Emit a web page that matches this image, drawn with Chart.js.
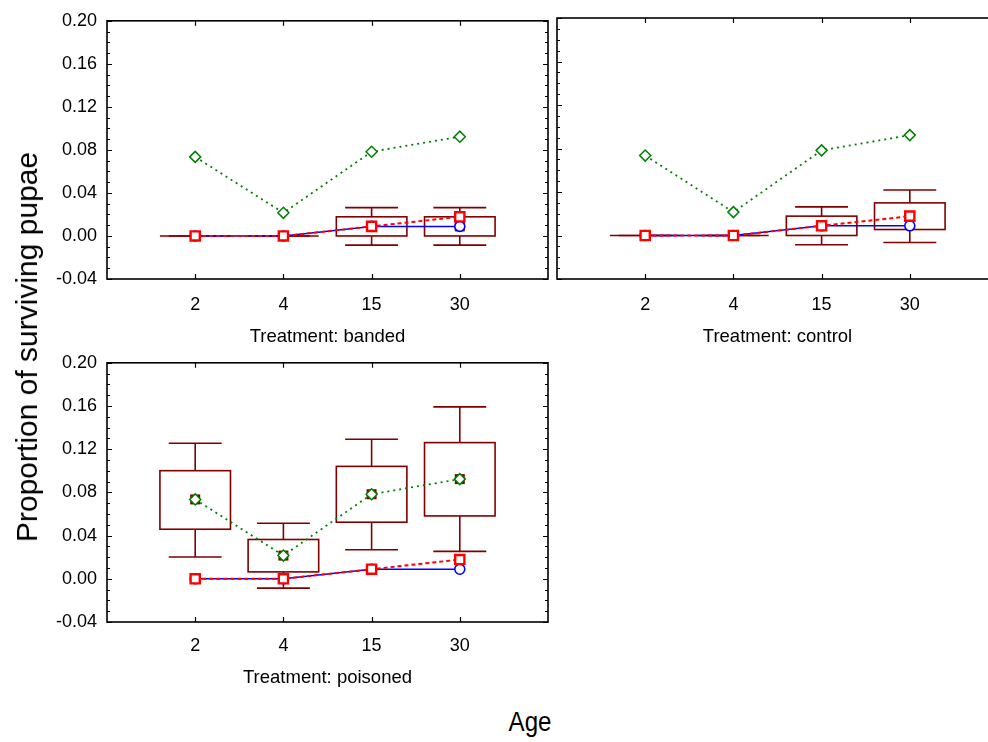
<!DOCTYPE html>
<html><head><meta charset="utf-8">
<script src="https://cdn.jsdelivr.net/npm/chart.js@4.4.1/dist/chart.umd.min.js"></script>
<style>
html,body{margin:0;padding:0;width:988px;height:742px;overflow:hidden;background:#fff;}
#wrap{position:relative;width:988px;height:742px;overflow:hidden;background:#fff;}
#wrap canvas{position:absolute;}
.lbl{position:absolute;font-family:"Liberation Sans",Arial,sans-serif;color:#000;white-space:nowrap;line-height:1;}
#ylab{left:27px;top:347px;font-size:30px;transform:translate(-50%,-50%) rotate(-90deg);}
#xlab{left:530px;top:722px;font-size:28px;transform:translate(-50%,-50%) scaleX(0.86);}
</style></head><body>
<div id="wrap">
<canvas id="c1" width="560" height="350" style="left:0px;top:0px"></canvas>
<canvas id="c2" width="470" height="350" style="left:540px;top:0px"></canvas>
<canvas id="c3" width="560" height="351" style="left:0px;top:342px"></canvas>
<div class="lbl" id="ylab">Proportion of surviving pupae</div>
<div class="lbl" id="xlab">Age</div>
</div>
<script>
// ---- data ----
const categories = ['2', '4', '15', '30'];
const yTickValues = [-0.04, 0, 0.04, 0.08, 0.12, 0.16, 0.20];
const yTickLabels = ['-0.04', '0.00', '0.04', '0.08', '0.12', '0.16', '0.20'];
const yMinorStep = 0.01;

const bandedMean = [0, 0, 0.0089, 0.0089];
const controlMean = [0, 0, 0.0089, 0.0178];
const poisonedMean = [0.0735, 0.0215, 0.0783, 0.0923];

const bandedBoxLow = [0, 0, 0, 0];
const bandedBoxHigh = [0, 0, 0.0178, 0.0178];
const bandedWhiskLow = [0, 0, -0.0085, -0.0085];
const bandedWhiskHigh = [0, 0, 0.0263, 0.0263];

const controlBoxLow = [0, 0, 0, 0.0055];
const controlBoxHigh = [0, 0, 0.0178, 0.0300];
const controlWhiskLow = [0, 0, -0.0085, -0.0064];
const controlWhiskHigh = [0, 0, 0.0263, 0.0418];

const poisonedBoxLow = [0.0459, 0.0064, 0.0524, 0.0582];
const poisonedBoxHigh = [0.1001, 0.0364, 0.1041, 0.1261];
const poisonedWhiskLow = [0.0202, -0.0086, 0.0269, 0.0254];
const poisonedWhiskHigh = [0.1255, 0.0514, 0.1292, 0.1592];

const panelTitles = ['Treatment: banded', 'Treatment: control', 'Treatment: poisoned'];

// ---- styling ----
const FONT = '"Liberation Sans", Arial, sans-serif';
const BOX_COLOR = '#800000';

const panelBoxes = [
  {mean: bandedMean, lo: bandedBoxLow, hi: bandedBoxHigh, wlo: bandedWhiskLow, whi: bandedWhiskHigh},
  {mean: controlMean, lo: controlBoxLow, hi: controlBoxHigh, wlo: controlWhiskLow, whi: controlWhiskHigh},
  {mean: poisonedMean, lo: poisonedBoxLow, hi: poisonedBoxHigh, wlo: poisonedWhiskLow, whi: poisonedWhiskHigh}
];

const boxPlugin = {
  id: 'boxPlugin',
  beforeDatasetsDraw(chart, args, opts) {
    const b = panelBoxes[opts.panel];
    const {ctx, chartArea: a} = chart;
    const x = chart.scales.x, y = chart.scales.y;
    ctx.save();
    ctx.beginPath();
    ctx.rect(a.left, a.top, a.right - a.left, a.bottom - a.top);
    ctx.clip();
    ctx.strokeStyle = BOX_COLOR;
    ctx.fillStyle = BOX_COLOR;
    ctx.lineWidth = 1.6;
    b.mean.forEach((m, i) => {
      const c = i + 1;
      const cx = x.getPixelForValue(c);
      const bx0 = x.getPixelForValue(c - 0.4), bx1 = x.getPixelForValue(c + 0.4);
      const kx0 = x.getPixelForValue(c - 0.3), kx1 = x.getPixelForValue(c + 0.3);
      const yl = y.getPixelForValue(b.lo[i]), yh = y.getPixelForValue(b.hi[i]);
      const wl = y.getPixelForValue(b.wlo[i]), wh = y.getPixelForValue(b.whi[i]);
      ctx.strokeRect(bx0, yh, bx1 - bx0, yl - yh);
      ctx.beginPath();
      ctx.moveTo(cx, yh); ctx.lineTo(cx, wh);
      ctx.moveTo(cx, yl); ctx.lineTo(cx, wl);
      ctx.moveTo(kx0, wh); ctx.lineTo(kx1, wh);
      ctx.moveTo(kx0, wl); ctx.lineTo(kx1, wl);
      ctx.stroke();
      const my = y.getPixelForValue(m);
      ctx.fillRect(cx - 5, my - 5, 10, 10);
    });
    ctx.restore();
  },
  afterDraw(chart) {
    const {ctx, chartArea: a} = chart;
    const x = chart.scales.x, y = chart.scales.y;
    ctx.save();
    ctx.strokeStyle = '#000';
    ctx.lineWidth = 1.6;
    ctx.strokeRect(a.left, a.top, a.right - a.left, a.bottom - a.top);
    ctx.lineWidth = 1.2;
    ctx.beginPath();
    const yMin = yTickValues[0], yMax = yTickValues[yTickValues.length - 1];
    const n = Math.round((yMax - yMin) / yMinorStep);
    for (let k = 0; k <= n; k++) {
      const v = yMin + k * yMinorStep;
      const major = yTickValues.some(t => Math.abs(t - v) < 1e-6);
      const len = major ? 5 : 3;
      const py = Math.round(y.getPixelForValue(v)) + 0.5;
      ctx.moveTo(a.left, py); ctx.lineTo(a.left + len, py);
      ctx.moveTo(a.right, py); ctx.lineTo(a.right - len, py);
    }
    categories.forEach((c, i) => {
      const px = Math.round(x.getPixelForValue(i + 1)) + 0.5;
      ctx.moveTo(px, a.bottom); ctx.lineTo(px, a.bottom - 5);
      ctx.moveTo(px, a.top); ctx.lineTo(px, a.top + 5);
    });
    ctx.stroke();
    ctx.restore();
  }
};

function makeChart(id, panel, opt) {
  const pts = arr => arr.map((v, i) => ({x: i + 1, y: v}));
  return new Chart(document.getElementById(id), {
    type: 'line',
    data: {
      datasets: [
        {label: 'poisoned', data: pts(poisonedMean), borderColor: '#008000', borderWidth: 1.8,
         borderDash: [2, 4], pointStyle: 'rectRot', pointRadius: 5.5, pointBorderWidth: 1.5,
         pointBorderColor: '#008000', pointBackgroundColor: '#ffffff', fill: false, tension: 0},
        {label: 'control', data: pts(controlMean), borderColor: '#ff0000', borderWidth: 2,
         borderDash: [4, 3], pointStyle: 'rect', pointRadius: 6.5, pointBorderWidth: 2.4,
         pointBorderColor: '#ff0000', pointBackgroundColor: '#ffffff', fill: false, tension: 0},
        {label: 'banded', data: pts(bandedMean), borderColor: '#0000ff', borderWidth: 1.5,
         pointStyle: 'circle', pointRadius: 5, pointBorderWidth: 1.6,
         pointBorderColor: '#0000ff', pointBackgroundColor: '#ffffff', fill: false, tension: 0}
      ]
    },
    options: {
      responsive: false,
      animation: false,
      devicePixelRatio: 1,
      layout: {padding: {top: opt.padTop, right: opt.padRight, left: 0, bottom: 0}},
      plugins: {legend: {display: false}, tooltip: {enabled: false}, boxPlugin: {panel: panel}},
      scales: {
        x: {
          type: 'linear', min: 0, max: 5,
          grid: {display: false, drawTicks: false}, border: {display: false},
          afterBuildTicks: s => { s.ticks = categories.map((c, i) => ({value: i + 1})); },
          afterFit: s => { s.height = opt.xHeight; },
          ticks: {
            font: {family: FONT, size: 18}, color: '#000', padding: opt.xTickPad,
            maxRotation: 0, autoSkip: false,
            callback: (v, i) => categories[i]
          },
          title: {display: true, text: panelTitles[panel], color: '#000',
                  font: {family: FONT, size: 18.5}, padding: {top: 0, bottom: opt.titlePad}}
        },
        y: {
          type: 'linear', min: yTickValues[0], max: yTickValues[yTickValues.length - 1],
          grid: {display: false, drawTicks: false}, border: {display: false},
          afterBuildTicks: s => { s.ticks = yTickValues.map(v => ({value: v})); },
          afterFit: s => { s.width = opt.yWidth; },
          ticks: {
            display: opt.showY,
            font: {family: FONT, size: 18}, color: '#000', padding: 10,
            callback: (v, i) => yTickLabels[i]
          }
        }
      }
    },
    plugins: [boxPlugin]
  });
}

makeChart('c1', 0, {padTop: 18, padRight: 12, xHeight: 71, xTickPad: 15, titlePad: 2, yWidth: 107, showY: true});
makeChart('c2', 1, {padTop: 18, padRight: 12, xHeight: 71, xTickPad: 15, titlePad: 2, yWidth: 17, showY: false});
makeChart('c3', 2, {padTop: 18.5, padRight: 12, xHeight: 71, xTickPad: 13, titlePad: 4, yWidth: 107, showY: true});
</script>
</body></html>
